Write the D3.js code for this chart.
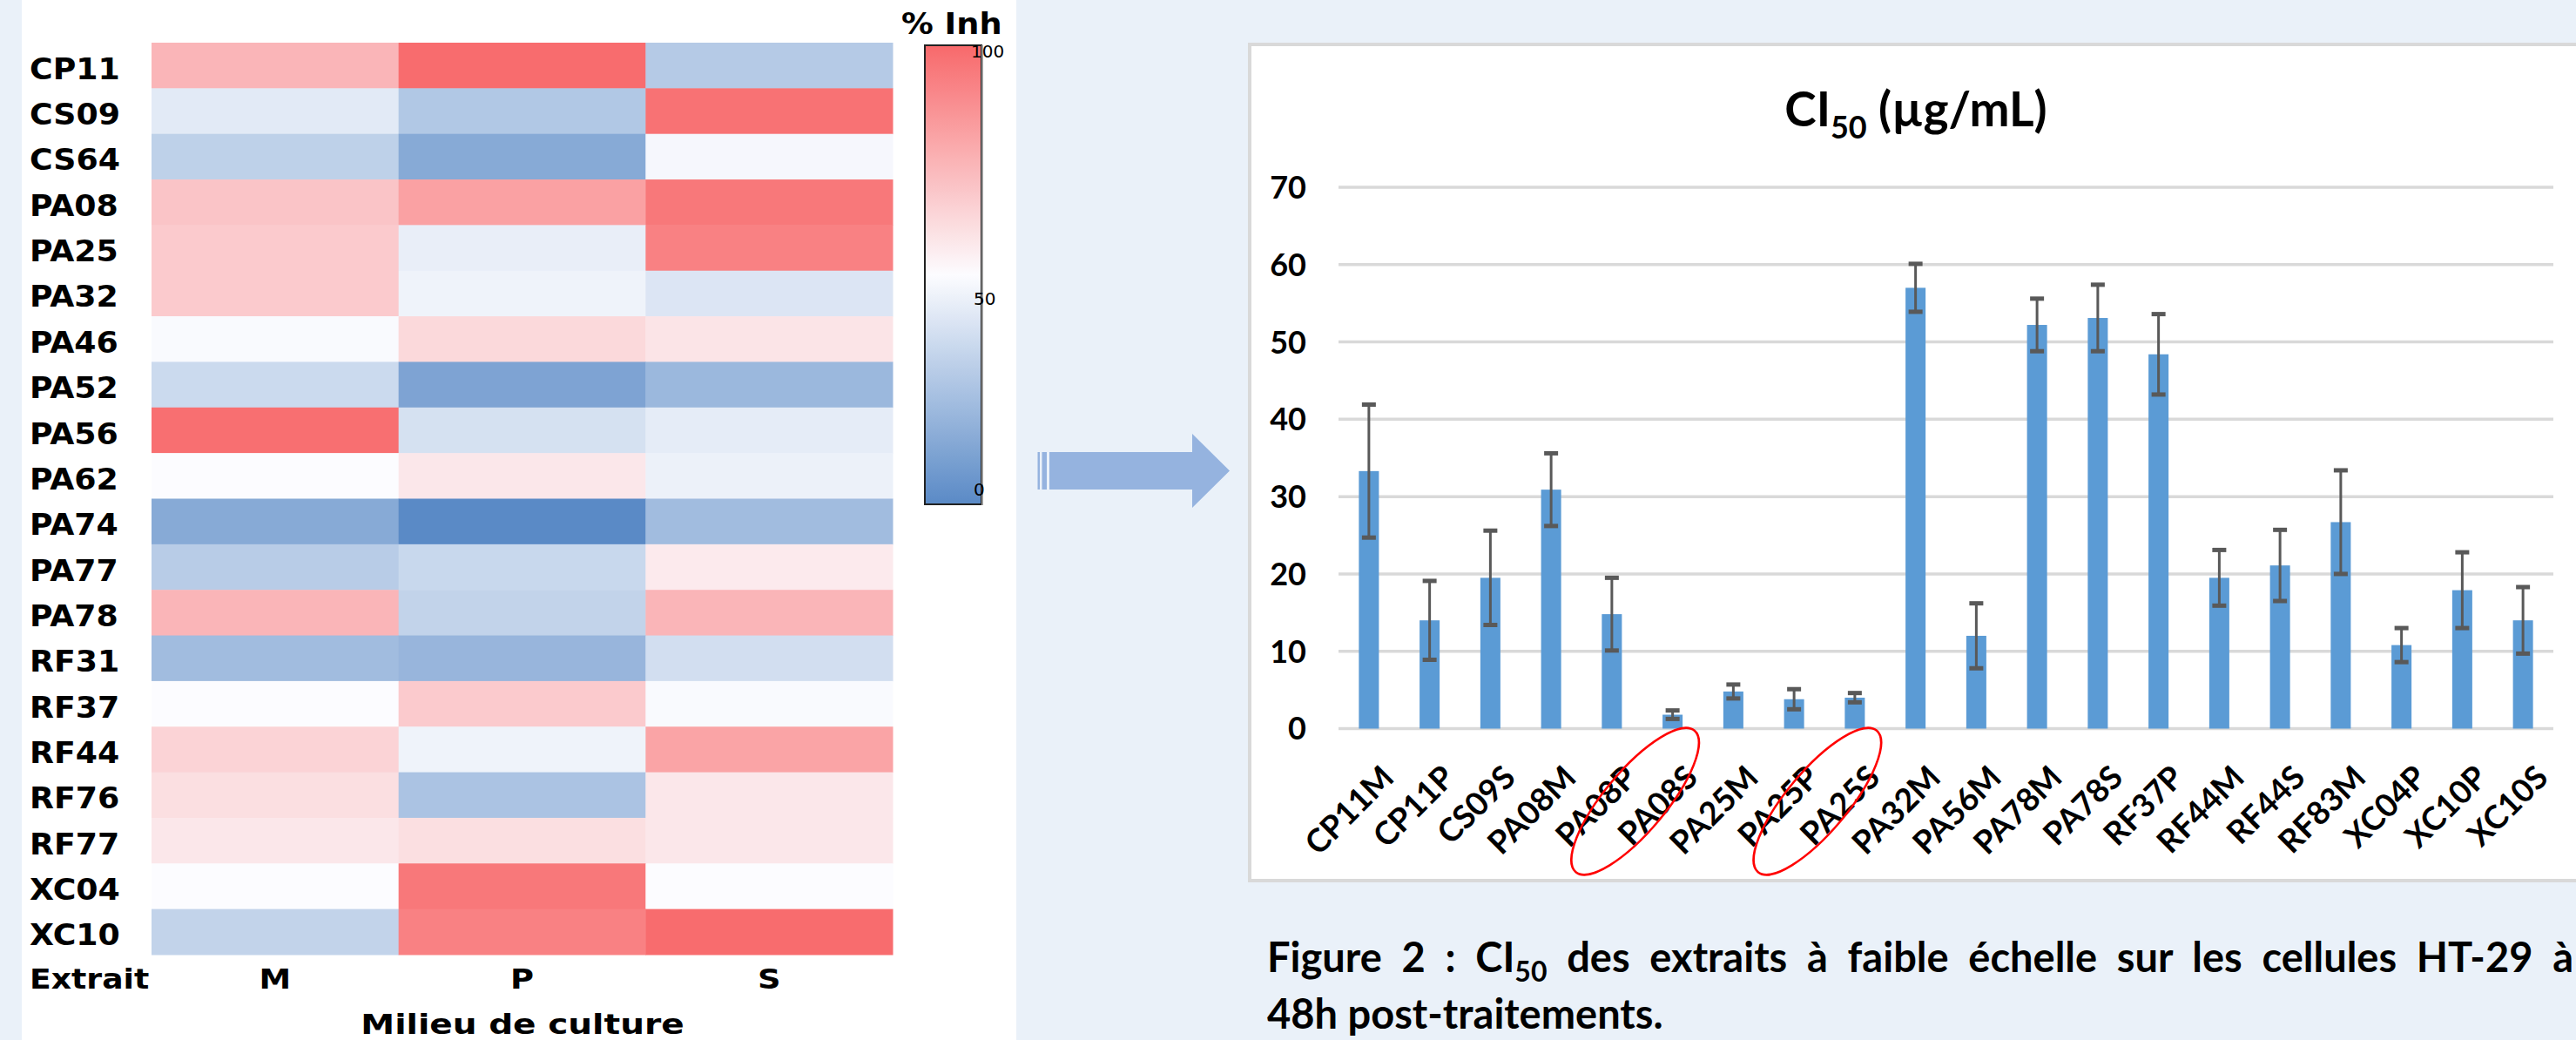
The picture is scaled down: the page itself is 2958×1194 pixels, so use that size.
<!DOCTYPE html>
<meta charset="utf-8">
<style>
body { margin: 0; background: #eaf1f9; }
svg { display: block; }
.hm text { font-family: "DejaVu Sans", Verdana, sans-serif; font-weight: bold; fill: #000; }
.bc text { font-family: Lato, "Open Sans", sans-serif; font-weight: bold; fill: #000; }
</style>
<svg width="2958" height="1194"></svg>
<script src="https://cdn.jsdelivr.net/npm/d3@7"></script>
<script>

// heatmap : % inhibition per extract and culture medium
var extraits = ["CP11", "CS09", "CS64", "PA08", "PA25", "PA32", "PA46", "PA52", "PA56", "PA62",
                "PA74", "PA77", "PA78", "RF31", "RF37", "RF44", "RF76", "RF77", "XC04", "XC10"];
var milieux = ["M", "P", "S"];
var inhM = [74, 42, 31, 69, 67, 67, 49, 35, 98, 50, 14, 29, 74, 22, 50, 64, 60, 57, 50, 32];
var inhP = [99, 27, 14, 81, 44, 46, 62, 11, 38, 57, 0, 34, 32, 19, 67, 46, 25, 60, 95, 92];
var inhS = [28, 97, 48, 95, 92, 40, 58, 20, 43, 45, 22, 56, 74, 37, 49, 80, 57, 57, 50, 99];
var legendTicks = [0, 50, 100];

// bar chart : CI50 (µg/mL)
var echantillons = ["CP11M", "CP11P", "CS09S", "PA08M", "PA08P", "PA08S", "PA25M", "PA25P", "PA25S", "PA32M",
                    "PA56M", "PA78M", "PA78S", "RF37P", "RF44M", "RF44S", "RF83M", "XC04P", "XC10P", "XC10S"];
var ci50 = [33.3, 14.0, 19.5, 30.9, 14.8, 1.8, 4.8, 3.8, 4.0, 57.0, 12.0, 52.2, 53.1, 48.4, 19.5, 21.1, 26.7, 10.8, 17.9, 14.0];
var ecart = [8.6, 5.1, 6.1, 4.7, 4.7, 0.55, 0.9, 1.3, 0.6, 3.1, 4.2, 3.4, 4.3, 5.2, 3.6, 4.6, 6.7, 2.2, 4.9, 4.3];
var yTicks = [0, 10, 20, 30, 40, 50, 60, 70];
var entoures = ["PA08S", "PA25S"];

var svg = d3.select("svg");

// stretch text horizontally, the source figure was widened
function stretch(sel, k) {
  sel.each(function() {
    var w = this.getComputedTextLength();
    d3.select(this).attr("textLength", w * k).attr("lengthAdjust", "spacingAndGlyphs");
  });
}

// ---------- left panel ----------
svg.append("rect").attr("x", 25).attr("y", 0).attr("width", 1142).attr("height", 1194).attr("fill", "#fff");

var hm = svg.append("g").attr("class", "hm");

var x = d3.scaleBand().domain(milieux).range([174, 1025]);
var y = d3.scaleBand().domain(extraits).range([49, 1096]);
var color = d3.scaleLinear().domain([0, 50, 100]).range(["#5a8ac6", "#fcfcff", "#f8696b"]);

var cells = [];
extraits.forEach(function(e, i) {
  cells.push({ e: e, m: "M", v: inhM[i] });
  cells.push({ e: e, m: "P", v: inhP[i] });
  cells.push({ e: e, m: "S", v: inhS[i] });
});

hm.selectAll("rect.cell").data(cells).enter().append("rect")
    .attr("class", "cell")
    .attr("x", function(d) { return x(d.m); })
    .attr("y", function(d) { return y(d.e); })
    .attr("width", x.bandwidth() + 0.5)
    .attr("height", y.bandwidth() + 0.5)
    .attr("fill", function(d) { return color(d.v); });

hm.selectAll("text.row").data(extraits).enter().append("text")
    .attr("class", "row")
    .attr("x", 34)
    .attr("y", function(d) { return y(d) + y.bandwidth() / 2 + 4; })
    .attr("dy", "0.35em")
    .style("font-size", "33px")
    .text(function(d) { return d; })
    .call(stretch, 1.1);

hm.append("text").attr("x", 34).attr("y", 1135).style("font-size", "32px").text("Extrait").call(stretch, 1.13);

hm.selectAll("text.col").data(milieux).enter().append("text")
    .attr("class", "col")
    .attr("x", function(d) { return x(d) + x.bandwidth() / 2; })
    .attr("y", 1135)
    .attr("text-anchor", "middle")
    .style("font-size", "32px")
    .text(function(d) { return d; })
    .call(stretch, 1.15);

hm.append("text").attr("x", 600).attr("y", 1187).attr("text-anchor", "middle")
    .style("font-size", "32px").text("Milieu de culture").call(stretch, 1.22);

// colour bar
var grad = svg.append("defs").append("linearGradient")
    .attr("id", "grad").attr("x1", 0).attr("y1", 1).attr("x2", 0).attr("y2", 0);
grad.selectAll("stop").data(d3.range(0, 101, 5)).enter().append("stop")
    .attr("offset", function(d) { return d + "%"; })
    .attr("stop-color", function(d) { return color(d); });

hm.append("rect").attr("x", 1062).attr("y", 52).attr("width", 65).attr("height", 527)
    .attr("fill", "url(#grad)").attr("stroke", "#222").attr("stroke-width", 2);
hm.append("line").attr("x1", 1128).attr("x2", 1128).attr("y1", 52).attr("y2", 580)
    .attr("stroke", "#999").attr("stroke-width", 2);

var ly = d3.scaleLinear().domain([0, 50, 100]).range([562, 343, 59]);
hm.selectAll("text.tick").data(legendTicks).enter().append("text")
    .attr("class", "tick")
    .attr("x", function(d) { return d === 100 ? 1115 : 1118; })
    .attr("y", function(d) { return ly(d); })
    .attr("dy", "0.36em")
    .style("font-size", "20px").style("font-weight", "normal")
    .text(function(d) { return d; });

hm.append("text").attr("x", 1035).attr("y", 39).style("font-size", "34px").text("% Inh").call(stretch, 1.08);

// ---------- arrow ----------
var arrow = svg.append("g").attr("fill", "#95b3df");
arrow.append("rect").attr("x", 1191.5).attr("y", 519).attr("width", 2.5).attr("height", 43);
arrow.append("rect").attr("x", 1196.5).attr("y", 519).attr("width", 5.5).attr("height", 43);
arrow.append("path").attr("d", "M1205,519H1369V498L1412,540.5L1369,583V562H1205Z");

// ---------- right panel ----------
var bc = svg.append("g").attr("class", "bc");
bc.append("rect").attr("x", 1435).attr("y", 51).attr("width", 1540).attr("height", 960)
    .attr("fill", "#fff").attr("stroke", "#d9d9d9").attr("stroke-width", 4);

var xb = d3.scaleBand().domain(echantillons).range([1537, 2932]).paddingInner(0.67).paddingOuter(0.335);
var yb = d3.scaleLinear().domain([0, 70]).range([836.5, 215]);

bc.selectAll("line.grid").data(yTicks).enter().append("line")
    .attr("class", "grid")
    .attr("x1", 1537).attr("x2", 2932)
    .attr("y1", function(d) { return yb(d); })
    .attr("y2", function(d) { return yb(d); })
    .attr("stroke", "#d9d9d9").attr("stroke-width", 3.5);

bc.selectAll("text.ytick").data(yTicks).enter().append("text")
    .attr("class", "ytick")
    .attr("x", 1500)
    .attr("y", function(d) { return yb(d); })
    .attr("dy", "0.36em")
    .attr("text-anchor", "end")
    .style("font-size", "36px")
    .text(function(d) { return d; });

var bars = echantillons.map(function(e, i) { return { e: e, v: ci50[i], s: ecart[i] }; });

bc.selectAll("rect.bar").data(bars).enter().append("rect")
    .attr("class", "bar")
    .attr("x", function(d) { return xb(d.e); })
    .attr("y", function(d) { return yb(d.v); })
    .attr("width", xb.bandwidth())
    .attr("height", function(d) { return yb(0) - yb(d.v); })
    .attr("fill", "#5b9bd5");

var err = bc.selectAll("g.err").data(bars).enter().append("g")
    .attr("class", "err")
    .attr("stroke", "#595959").attr("stroke-width", 3);
err.append("line")
    .attr("x1", function(d) { return xb(d.e) + xb.bandwidth() / 2; })
    .attr("x2", function(d) { return xb(d.e) + xb.bandwidth() / 2; })
    .attr("y1", function(d) { return yb(d.v - d.s); })
    .attr("y2", function(d) { return yb(d.v + d.s); });
[-1, 1].forEach(function(k) {
  err.append("line")
      .attr("x1", function(d) { return xb(d.e) + xb.bandwidth() / 2 - 8; })
      .attr("x2", function(d) { return xb(d.e) + xb.bandwidth() / 2 + 8; })
      .attr("y1", function(d) { return yb(d.v + k * d.s); })
      .attr("y2", function(d) { return yb(d.v + k * d.s); })
      .attr("stroke-width", 5);
});

bc.selectAll("text.xlab").data(echantillons).enter().append("text")
    .attr("class", "xlab")
    .attr("transform", function(d) { return "translate(" + (xb(d) + xb.bandwidth() / 2 + 10) + ",874) rotate(-45)"; })
    .attr("text-anchor", "end")
    .attr("dominant-baseline", "hanging")
    .style("font-size", "37px")
    .text(function(d) { return d; });

bc.selectAll("ellipse").data(entoures).enter().append("ellipse")
    .attr("transform", function(d) { return "translate(" + (xb(d) + xb.bandwidth() / 2 - 43) + ",920) rotate(-50)"; })
    .attr("rx", 106).attr("ry", 35)
    .attr("fill", "none").attr("stroke", "#ff0000").attr("stroke-width", 2.5);

var title = bc.append("text").attr("x", 2200).attr("y", 145).attr("text-anchor", "middle").style("font-size", "55px");
title.append("tspan").text("CI");
title.append("tspan").attr("dy", 14).style("font-size", "36px").text("50");
title.append("tspan").attr("dy", -14).text(" (µg/mL)");

// caption, first line justified
var cap = bc.append("text").attr("x", 1455).attr("y", 1116).style("font-size", "47px");
cap.append("tspan").text("Figure 2 : CI");
cap.append("tspan").attr("dy", 11).style("font-size", "32px").text("50");
cap.append("tspan").attr("dy", -11).text(" des extraits à faible échelle sur les cellules HT-29 à");
var nat = cap.node().getComputedTextLength();
var spaces = (cap.text().match(/ /g) || []).length;
cap.style("word-spacing", Math.max(0, (2955 - 1455 - nat) / spaces) + "px");

bc.append("text").attr("x", 1455).attr("y", 1181).style("font-size", "47px").text("48h post-traitements.");

</script>
